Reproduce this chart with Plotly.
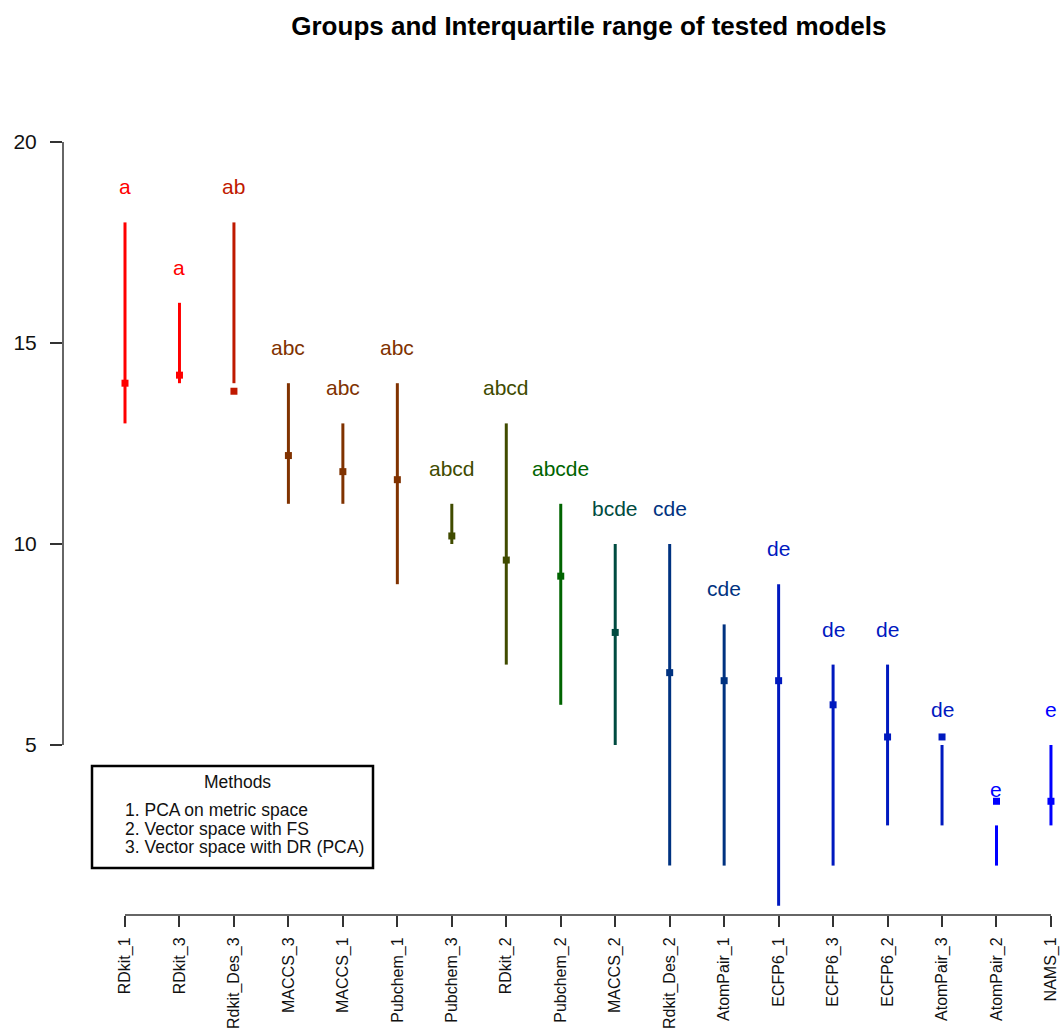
import plotly.graph_objects as go

# Models ordered by median score
models = ["RDkit_1", "RDkit_3", "Rdkit_Des_3", "MACCS_3", "MACCS_1", "Pubchem_1",
          "Pubchem_3", "RDkit_2", "Pubchem_2", "MACCS_2", "Rdkit_Des_2", "AtomPair_1",
          "ECFP6_1", "ECFP6_3", "ECFP6_2", "AtomPair_3", "AtomPair_2", "NAMS_1"]
medians = [14.0, 14.2, 13.8, 12.2, 11.8, 11.6, 10.2, 9.6, 9.2, 7.8, 6.8, 6.6,
           6.6, 6.0, 5.2, 5.2, 3.6, 3.6]
q1 = [13, 14, 14, 11, 11, 9, 10, 7, 6, 5, 2, 2, 1, 2, 3, 3, 2, 3]
q3 = [18, 16, 18, 14, 13, 14, 11, 13, 11, 10, 10, 8, 9, 7, 7, 5, 3, 5]
groups = ["a", "a", "ab", "abc", "abc", "abc", "abcd", "abcd", "abcde", "bcde",
          "cde", "cde", "de", "de", "de", "de", "e", "e"]

# Red -> dark green -> blue ramp, one colour per letter group
group_colors = {
    "a": "rgb(255,0,0)",
    "ab": "rgb(191,25,0)",
    "abc": "rgb(128,50,0)",
    "abcd": "rgb(64,75,0)",
    "abcde": "rgb(0,100,0)",
    "bcde": "rgb(0,75,64)",
    "cde": "rgb(0,50,128)",
    "de": "rgb(0,25,191)",
    "e": "rgb(0,0,255)",
}

legend_title = "Methods"
legend_items = ["1. PCA on metric space", "2. Vector space with FS", "3. Vector space with DR (PCA)"]

xs = list(range(1, len(models) + 1))
colors = [group_colors[g] for g in groups]
FONT = "Liberation Sans, Arial, sans-serif"

fig = go.Figure()

# Interquartile ranges as vertical segments
for x, lo, hi, c in zip(xs, q1, q3, colors):
    fig.add_trace(go.Scatter(x=[x, x], y=[lo, hi], mode="lines",
                             line=dict(color=c, width=3), hoverinfo="skip"))

# Medians
fig.add_trace(go.Scatter(x=xs, y=medians, mode="markers",
                         marker=dict(symbol="square", size=7, color=colors, line=dict(width=0)),
                         text=models, hovertemplate="%{text}: %{y}<extra></extra>"))

# Group letters above each range
for x, hi, g, c in zip(xs, q3, groups, colors):
    fig.add_annotation(x=x, y=hi, text=g, showarrow=False, xanchor="center",
                       yanchor="bottom", yshift=22,
                       font=dict(family=FONT, size=21, color=c))

# Axis lines spanning only the tick range
fig.add_shape(type="line", xref="x", yref="paper", x0=1, x1=len(models), y0=0, y1=0,
              line=dict(color="#333333", width=1.5))
fig.add_shape(type="line", xref="paper", yref="y", x0=0, x1=0, y0=5, y1=20,
              line=dict(color="#333333", width=1.5))

# Methods box
fig.add_shape(type="rect", xref="paper", yref="paper", x0=0.029, x1=0.310,
              y0=0.0577, y1=0.1828, line=dict(color="black", width=2.5),
              fillcolor="white")
fig.add_annotation(xref="paper", yref="paper", x=0.174, y=0.1632, text=legend_title,
                   showarrow=False, xanchor="center", yanchor="middle",
                   font=dict(family=FONT, size=17.5, color="#111111"))
for i, item in enumerate(legend_items):
    fig.add_annotation(xref="paper", yref="paper", x=0.0595, y=0.1288 - i * 0.0227,
                       text=item, showarrow=False, xanchor="left", yanchor="middle",
                       font=dict(family=FONT, size=17.5, color="#111111"))

fig.update_layout(
    width=1063, height=1031,
    margin=dict(l=63, r=0, t=100, b=116),
    paper_bgcolor="white", plot_bgcolor="white",
    showlegend=False,
    title=dict(text="<b>Groups and Interquartile range of tested models</b>",
               x=0.554, xanchor="center", y=1 - 26 / 1031, yanchor="middle",
               font=dict(family=FONT, size=26, color="black")),
    xaxis=dict(range=[-0.1383, 18.221], tickmode="array", tickvals=xs, ticktext=models,
               tickangle=-90, ticks="outside", ticklen=11, tickwidth=1.5, tickcolor="#333333",
               ticklabelstandoff=4,
               showgrid=False, zeroline=False, showline=False,
               tickfont=dict(family=FONT, size=16, color="#111111")),
    yaxis=dict(range=[0.771, 21.045], tickmode="array", tickvals=[5, 10, 15, 20],
               ticks="outside", ticklen=12, tickwidth=1.5, tickcolor="#333333",
               ticklabelstandoff=9,
               showgrid=False, zeroline=False, showline=False,
               tickfont=dict(family=FONT, size=21, color="#111111")),
)

fig.write_html("out.html")
